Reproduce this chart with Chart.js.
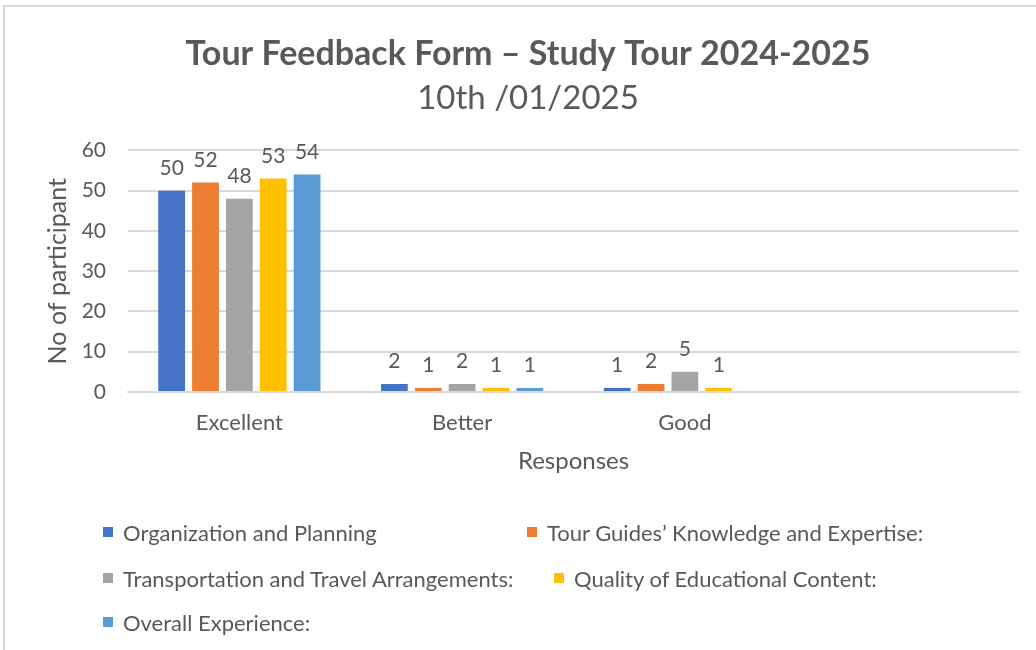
<!DOCTYPE html>
<html>
<head>
<meta charset="utf-8">
<script src="https://cdn.jsdelivr.net/npm/chart.js@4.4.1/dist/chart.umd.min.js"></script>
<style>
  html, body { margin: 0; padding: 0; background: #fff; overflow: hidden; }
  body { width: 1036px; height: 650px; position: relative; font-family: Lato, 'Open Sans', sans-serif; }
  .frame { position: absolute; left: 3px; top: 5px; width: 1100px; height: 700px; border: 2px solid #d9d9d9; box-sizing: border-box; }
  .chart-box { position: absolute; left: 0; top: 0; width: 1036px; height: 500px; }
  .legend { position: absolute; left: 0; top: 0; width: 1036px; height: 650px; pointer-events: none; }
  .legend__item { position: absolute; display: flex; align-items: center; font-size: 22px; color: #595959; white-space: nowrap; }
  .legend__swatch { width: 10px; height: 10px; margin-right: 10px; }
</style>
</head>
<body>
<div class="frame"></div>
<div class="chart-box"><canvas id="chart"></canvas></div>
<div class="legend" id="legend"></div>
<script>
/* ---------- Data ---------- */
var CATEGORIES = ['Excellent', 'Better', 'Good', ''];
var SERIES_NAMES = [
  'Organization and Planning',
  'Tour Guides\u2019 Knowledge and Expertise:',
  'Transportation and Travel Arrangements:',
  'Quality of Educational Content:',
  'Overall Experience:'
];
var ORGANIZATION = [50, 2, 1, null];
var TOUR_GUIDES = [52, 1, 2, null];
var TRANSPORTATION = [48, 2, 5, null];
var CONTENT_QUALITY = [53, 1, 1, null];
var OVERALL = [54, 1, null, null];
var Y_TICKS = [0, 10, 20, 30, 40, 50, 60];

var COLORS = ['#4472C4', '#ED7D31', '#A5A5A5', '#FFC000', '#5B9BD5'];
var TEXT = '#595959';
var FONT = "Lato, 'Open Sans', sans-serif";

/* legend placement: [left, centre y] per item (Excel flows them, so columns don't line up) */
var LEGEND_POS = [[103, 532], [527, 532], [103, 578], [554, 578], [103, 622]];

var values = [ORGANIZATION, TOUR_GUIDES, TRANSPORTATION, CONTENT_QUALITY, OVERALL];

/* ---------- Value labels above bars ---------- */
var barLabels = {
  id: 'barLabels',
  afterDatasetsDraw: function (chart) {
    var ctx = chart.ctx;
    ctx.save();
    ctx.fillStyle = TEXT;
    ctx.font = '21px ' + FONT;
    ctx.textAlign = 'center';
    ctx.textBaseline = 'bottom';
    chart.data.datasets.forEach(function (ds, i) {
      var meta = chart.getDatasetMeta(i);
      meta.data.forEach(function (bar, j) {
        var v = ds.data[j];
        if (v === null || v === undefined) return;
        ctx.fillText(String(v), bar.x, bar.y - 12);
      });
    });
    ctx.restore();
  }
};

var chart = new Chart(document.getElementById('chart'), {
  type: 'bar',
  data: {
    labels: CATEGORIES,
    datasets: SERIES_NAMES.map(function (name, i) {
      return {
        label: name,
        data: values[i],
        backgroundColor: COLORS[i],
        borderWidth: 0,
        categoryPercentage: 0.76,
        barPercentage: 0.79
      };
    })
  },
  options: {
    responsive: true,
    maintainAspectRatio: false,
    animation: false,
    // left padding pushes the centred titles right, as in the original
    layout: { padding: { left: 37, right: 17, top: 0, bottom: 0 } },
    plugins: {
      legend: { display: false },
      tooltip: { enabled: false },
      title: {
        display: true,
        text: 'Tour Feedback Form \u2013 Study Tour 2024-2025',
        color: TEXT,
        font: { family: FONT, size: 34, weight: 'bold' },
        padding: { top: 34, bottom: 4 }
      },
      subtitle: {
        display: true,
        text: '10th /01/2025',
        color: TEXT,
        font: { family: FONT, size: 33, weight: 'normal' },
        padding: { top: 0, bottom: 32 }
      }
    },
    scales: {
      x: {
        grid: { display: false },
        border: { color: '#d9d9d9', width: 2 },
        ticks: { color: TEXT, font: { family: FONT, size: 22 }, padding: 10 },
        title: { display: true, text: 'Responses', color: TEXT, font: { family: FONT, size: 24 }, padding: { top: 0, bottom: 24 } },
        afterFit: function (axis) { axis.height = 108; }
      },
      y: {
        min: 0,
        max: 60,
        afterBuildTicks: function (axis) {
          axis.ticks = Y_TICKS.map(function (v) { return { value: v }; });
        },
        grid: { color: '#d9d9d9', lineWidth: 2, drawTicks: false },
        border: { display: false },
        ticks: { color: TEXT, font: { family: FONT, size: 21 }, padding: 22 },
        title: { display: true, text: 'No of participant', color: TEXT, font: { family: FONT, size: 25 }, padding: { top: 6, bottom: 0 } },
        afterFit: function (axis) { axis.width = 91; }
      }
    }
  },
  plugins: [barLabels]
});

/* ---------- HTML legend ---------- */
var legend = document.getElementById('legend');
chart.data.datasets.forEach(function (ds, i) {
  var item = document.createElement('div');
  item.className = 'legend__item';
  item.style.left = LEGEND_POS[i][0] + 'px';
  item.style.top = (LEGEND_POS[i][1] - 14) + 'px';
  item.style.height = '28px';
  item.innerHTML = '<span class="legend__swatch" style="background:' + ds.backgroundColor + '"></span>' + ds.label;
  legend.appendChild(item);
});
</script>
</body>
</html>
